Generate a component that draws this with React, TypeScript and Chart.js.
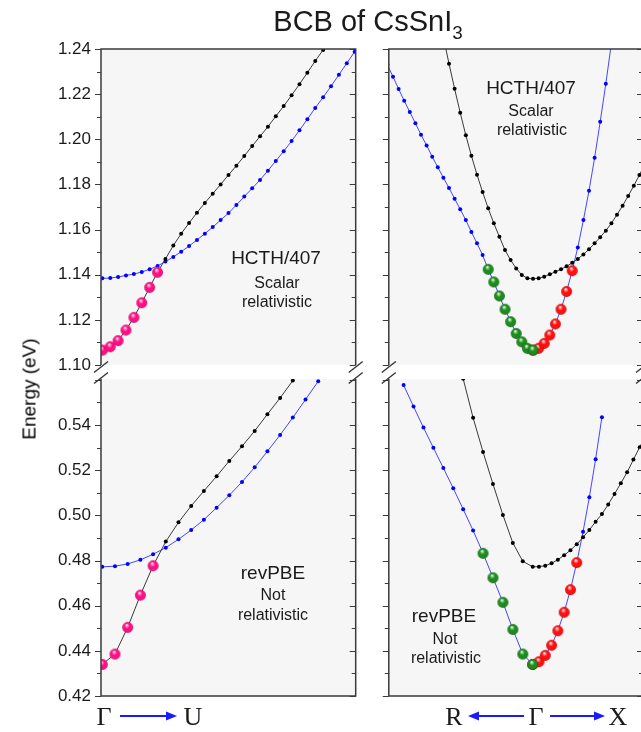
import React, { useEffect, useRef } from 'react';
import { Chart, registerables } from 'chart.js';

Chart.register(...registerables);

// ---------------- data ----------------
// Y ranges (eV)
const TOP_Y_MIN = 1.1;
const TOP_Y_MAX = 1.24;
const BOT_Y_MIN = 0.42;
const BOT_Y_MAX = 0.5604;

// Γ → U, HCTH/407 (k index 0,1,2,...)
const TL_BLACK = [1.1066, 1.1081, 1.1108, 1.1155, 1.1211, 1.1276, 1.1344, 1.1411, 1.147, 1.1529, 1.1582, 1.1629, 1.1675, 1.1718, 1.1759, 1.18, 1.1842, 1.1883, 1.1926, 1.197, 1.2013, 1.2056, 1.2102, 1.2147, 1.2195, 1.2244, 1.2295, 1.2347, 1.2396, 1.2447];
const TL_PINK = [1.1066, 1.1081, 1.1108, 1.1155, 1.1211, 1.1276, 1.1344, 1.1411];
const TL_BLUE = [1.1384, 1.1385, 1.139, 1.1397, 1.1403, 1.1412, 1.1424, 1.1439, 1.1458, 1.1479, 1.1502, 1.1527, 1.1554, 1.1582, 1.1611, 1.1642, 1.1673, 1.1709, 1.1746, 1.1783, 1.182, 1.1861, 1.1904, 1.1947, 1.1992, 1.204, 1.2089, 1.2139, 1.2186, 1.2235, 1.2286, 1.2337, 1.2388];

// Γ → U, revPBE
const BL_BLACK = [0.434, 0.4386, 0.4504, 0.4647, 0.4777, 0.4884, 0.4969, 0.5042, 0.5108, 0.5173, 0.5241, 0.5306, 0.5374, 0.5448, 0.552, 0.5597];
const BL_PINK = [0.434, 0.4386, 0.4504, 0.4647, 0.4777];
const BL_BLUE = [0.4772, 0.4775, 0.4785, 0.4803, 0.4828, 0.4857, 0.4894, 0.4935, 0.4981, 0.5034, 0.5089, 0.5148, 0.5213, 0.5284, 0.5356, 0.5433, 0.5513, 0.5594];

// R ← Γ → X, HCTH/407 ; R side listed from far R to Γ (n = 0), X side from m = 1 outward
const TR_X_STEP = 1;
const TR_BLUE_R = [1.233, 1.2277, 1.2223, 1.2171, 1.2121, 1.2071, 1.202, 1.1973, 1.1923, 1.1876, 1.183, 1.1784, 1.1737, 1.169, 1.1642, 1.1589, 1.1539, 1.1487, 1.1424, 1.1368, 1.1306, 1.1247, 1.1192, 1.114, 1.1103, 1.1074, 1.1066];
const TR_BLUE_X = [1.1074, 1.1096, 1.1133, 1.1182, 1.1247, 1.1326, 1.1418, 1.1521, 1.1642, 1.1772, 1.1918, 1.2078, 1.2246, 1.2426];
const TR_GREEN = [1.1424, 1.1368, 1.1306, 1.1247, 1.1192, 1.114, 1.1103, 1.1074, 1.1066];
const TR_RED = [1.1066, 1.1074, 1.1096, 1.1133, 1.1182, 1.1247, 1.1326, 1.1418];
const TR_BLACK_R = [1.2452, 1.2335, 1.2224, 1.2118, 1.2018, 1.1927, 1.1843, 1.1766, 1.1694, 1.1628, 1.1568, 1.1509, 1.1465, 1.1428, 1.1399, 1.1384, 1.1382];
const TR_BLACK_X = [1.1384, 1.1391, 1.1402, 1.1413, 1.1424, 1.1437, 1.1453, 1.147, 1.149, 1.1513, 1.1539, 1.1566, 1.1595, 1.1628, 1.1666, 1.1706, 1.1749, 1.1794, 1.1842, 1.189];

// R ← Γ → X, revPBE
const BR_X_STEP = 0.634;
const BR_BLUE_R = [0.5577, 0.5482, 0.5389, 0.5299, 0.521, 0.512, 0.5027, 0.4933, 0.4832, 0.4724, 0.4615, 0.4495, 0.4386, 0.434];
const BR_BLUE_X = [0.4352, 0.438, 0.4425, 0.4489, 0.4571, 0.4671, 0.4791, 0.4927, 0.508, 0.5249, 0.5435];
const BR_GREEN = [0.4832, 0.4724, 0.4615, 0.4495, 0.4386, 0.434];
const BR_RED = [0.434, 0.4352, 0.438, 0.4425, 0.4489, 0.4571, 0.4671, 0.4791];
const BR_BLACK_R = [0.5605, 0.5432, 0.5281, 0.5139, 0.5002, 0.4878, 0.4797, 0.4772];
const BR_BLACK_X = [0.4773, 0.4777, 0.4788, 0.4804, 0.4823, 0.4846, 0.4872, 0.4903, 0.4935, 0.4972, 0.5006, 0.5048, 0.5095, 0.5142, 0.5191, 0.5247, 0.5302, 0.5356];

// ---------------- helpers ----------------
const SANS = "'Liberation Sans', Arial, Helvetica, sans-serif";
const SERIF = "'Liberation Serif', 'Times New Roman', serif";
const BG = '#f6f6f6';
const AXIS = '#3a3a3a';
const BLACK_LINE = '#3a3a3a';
const BLUE_LINE = '#4646ff';
const CW = 660;
const CH = 732;

const fwd = (vals: number[], x0 = 0, step = 1) => vals.map((y, i) => ({ x: x0 + i * step, y }));
const rSide = (vals: number[]) => vals.map((y, i) => ({ x: i - (vals.length - 1), y }));
const xSide = (vals: number[], step: number) => vals.map((y, i) => ({ x: (i + 1) * step, y }));

function sphere(base: string, light: string, dark: string, r: number) {
  const c = document.createElement('canvas');
  const s = Math.ceil(r * 2) + 2;
  c.width = s;
  c.height = s;
  const g = c.getContext('2d')!;
  const cx = s / 2;
  const cy = s / 2;
  const grad = g.createRadialGradient(cx - r * 0.2, cy - r * 0.45, r * 0.05, cx, cy, r);
  grad.addColorStop(0, '#ffffff');
  grad.addColorStop(0.18, light);
  grad.addColorStop(0.45, base);
  grad.addColorStop(0.85, base);
  grad.addColorStop(1, dark);
  g.fillStyle = grad;
  g.beginPath();
  g.arc(cx, cy, r, 0, Math.PI * 2);
  g.fill();
  return c;
}

const lineDs = (data: any[], kind: 'black' | 'blue') => ({
  data,
  borderColor: kind === 'black' ? BLACK_LINE : BLUE_LINE,
  borderWidth: 1,
  pointRadius: 2,
  pointBorderWidth: 0,
  pointBackgroundColor: kind === 'black' ? '#000000' : '#0000ff',
  tension: 0,
});

const ballDs = (data: any[], img: HTMLCanvasElement) => ({
  data,
  showLine: false,
  pointStyle: img,
  pointRadius: 5,
  borderWidth: 0,
});

const panelDeco = {
  id: 'panelDeco',
  beforeDraw(chart: any) {
    const { ctx, chartArea: a } = chart;
    ctx.save();
    ctx.fillStyle = BG;
    ctx.fillRect(a.left, a.top, a.right - a.left, a.bottom - a.top);
    ctx.restore();
  },
  afterDraw(chart: any, _args: any, opts: any) {
    const { ctx, chartArea: a } = chart;
    const ys = chart.scales.y;
    ctx.save();
    ctx.strokeStyle = AXIS;
    ctx.lineWidth = 1.5;
    ctx.beginPath();
    ctx.moveTo(a.left, a.top);
    ctx.lineTo(a.left, a.bottom);
    ctx.moveTo(a.right, a.top);
    ctx.lineTo(a.right, a.bottom);
    if (opts.edge === 'top') {
      ctx.moveTo(a.left - 0.75, a.top);
      ctx.lineTo(a.right + 0.75, a.top);
    } else {
      ctx.moveTo(a.left - 0.75, a.bottom);
      ctx.lineTo(a.right + 0.75, a.bottom);
    }
    ctx.stroke();

    ctx.lineWidth = 1.2;
    ctx.beginPath();
    const k0 = Math.ceil(ys.min * 100 - 1e-6);
    const k1 = Math.floor(ys.max * 100 + 1e-6);
    for (let k = k0; k <= k1; k++) {
      const py = Math.round(ys.getPixelForValue(k / 100)) + 0.5;
      const major = k % 2 === 0;
      ctx.moveTo(a.left, py);
      ctx.lineTo(a.left - (major ? 6 : 4), py);
      ctx.moveTo(a.right, py);
      ctx.lineTo(a.right - (major ? 6 : 4), py);
    }
    ctx.stroke();

    // axis-break marks
    ctx.lineWidth = 1.5;
    ctx.beginPath();
    const by = opts.edge === 'top' ? a.bottom + 2 : a.top - 1;
    [a.left, a.right].forEach((x: number) => {
      ctx.moveTo(x - 7, by + 5.5);
      ctx.lineTo(x + 7, by - 5.5);
    });
    ctx.stroke();
    ctx.restore();
  },
};

type Panel = {
  l: number; t: number; r: number; b: number;
  xMin: number; xMax: number; yMin: number; yMax: number;
  labels: boolean; edge: 'top' | 'bottom';
  datasets: (s: Record<string, HTMLCanvasElement>) => any[];
};

const PANELS: Panel[] = [
  {
    l: 101, t: 49, r: 355.7, b: 365, xMin: -0.17, xMax: 32.13, yMin: TOP_Y_MIN, yMax: TOP_Y_MAX, labels: true, edge: 'top',
    datasets: (s) => [ballDs(fwd(TL_PINK), s.pink), lineDs(fwd(TL_BLACK), 'black'), lineDs(fwd(TL_BLUE), 'blue')],
  },
  {
    l: 101, t: 379, r: 355.7, b: 696, xMin: -0.1, xMax: 19.95, yMin: BOT_Y_MIN, yMax: BOT_Y_MAX, labels: true, edge: 'bottom',
    datasets: (s) => [ballDs(fwd(BL_PINK), s.pink), lineDs(fwd(BL_BLACK), 'black'), lineDs(fwd(BL_BLUE), 'blue')],
  },
  {
    l: 388.8, t: 49, r: 643, b: 365, xMin: -25.75, xMax: 19.64, yMin: TOP_Y_MIN, yMax: TOP_Y_MAX, labels: false, edge: 'top',
    datasets: (s) => [
      ballDs(rSide(TR_GREEN), s.green),
      ballDs(fwd(TR_RED, 0, TR_X_STEP), s.red),
      lineDs([...rSide(TR_BLACK_R), ...xSide(TR_BLACK_X, TR_X_STEP)], 'black'),
      lineDs([...rSide(TR_BLUE_R), ...xSide(TR_BLUE_X, TR_X_STEP)], 'blue'),
    ],
  },
  {
    l: 388.8, t: 379, r: 643, b: 696, xMin: -14.49, xMax: 11.11, yMin: BOT_Y_MIN, yMax: BOT_Y_MAX, labels: false, edge: 'bottom',
    datasets: (s) => [
      ballDs(rSide(BR_GREEN), s.green),
      ballDs(fwd(BR_RED, 0, BR_X_STEP), s.red),
      lineDs([...rSide(BR_BLACK_R), ...xSide(BR_BLACK_X, BR_X_STEP)], 'black'),
      lineDs([...rSide(BR_BLUE_R), ...xSide(BR_BLUE_X, BR_X_STEP)], 'blue'),
    ],
  },
];

function makeConfig(p: Panel, spheres: Record<string, HTMLCanvasElement>): any {
  const axisW = 60;
  const yScale: any = {
    type: 'linear',
    min: p.yMin,
    max: p.yMax,
    display: p.labels,
    grid: { display: false, drawTicks: false },
    border: { display: false },
    ticks: {
      stepSize: 0.02,
      autoSkip: false,
      padding: 10,
      color: '#1a1a1a',
      font: { family: SANS, size: 17 },
      callback: (v: number) => (v > 0.555 && v < 0.6 ? '' : Number(v).toFixed(2)),
    },
  };
  if (p.labels) yScale.afterFit = (sc: any) => { sc.width = axisW; };
  return {
    type: 'line',
    data: { datasets: p.datasets(spheres) },
    options: {
      responsive: false,
      animation: false,
      events: [],
      layout: { padding: { left: p.labels ? p.l - axisW : p.l, top: p.t, right: CW - p.r, bottom: CH - p.b } },
      scales: {
        x: { type: 'linear', min: p.xMin, max: p.xMax, display: false },
        y: yScale,
      },
      plugins: { legend: { display: false }, tooltip: { enabled: false }, panelDeco: { edge: p.edge } },
    },
    plugins: [panelDeco],
  };
}

const Txt = ({ x, y, size, children, family = SANS }: any) => (
  <div style={{ position: 'absolute', left: x, top: y, transform: 'translate(-50%,-50%)', fontSize: size, fontFamily: family, lineHeight: 1, whiteSpace: 'nowrap', color: '#1a1a1a' }}>
    {children}
  </div>
);

export default function App() {
  const r0 = useRef<HTMLCanvasElement>(null);
  const r1 = useRef<HTMLCanvasElement>(null);
  const r2 = useRef<HTMLCanvasElement>(null);
  const r3 = useRef<HTMLCanvasElement>(null);

  useEffect(() => {
    const spheres = {
      pink: sphere('#ff0f86', '#ff8cc6', '#b8005a', 5.4),
      green: sphere('#1c8c1c', '#8fd08f', '#0b520b', 5.4),
      red: sphere('#ff1010', '#ff9090', '#b00000', 5.4),
    };
    const refs = [r0, r1, r2, r3];
    const charts = PANELS.map((p, i) => new Chart(refs[i].current as HTMLCanvasElement, makeConfig(p, spheres)));
    return () => charts.forEach((c) => c.destroy());
  }, []);

  const cv = { position: 'absolute' as const, left: 0, top: 0 };

  return (
    <div style={{ position: 'absolute', left: 0, top: 0, width: 641, height: 732, overflow: 'hidden', background: '#ffffff', fontFamily: SANS }}>
      <canvas ref={r0} width={CW} height={CH} style={cv} />
      <canvas ref={r1} width={CW} height={CH} style={cv} />
      <canvas ref={r2} width={CW} height={CH} style={cv} />
      <canvas ref={r3} width={CW} height={CH} style={cv} />

      <Txt x={368} y={21} size={29}>
        BCB of CsSnI<span style={{ fontSize: '0.65em', position: 'relative', top: '0.45em' }}>3</span>
      </Txt>

      <div style={{ position: 'absolute', left: 29, top: 389, transform: 'translate(-50%,-50%) rotate(-90deg)', fontSize: 19, fontFamily: SANS, whiteSpace: 'nowrap', lineHeight: 1, color: '#000000' }}>
        Energy (eV)
      </div>

      <Txt x={276} y={257} size={19}>HCTH/407</Txt>
      <Txt x={277} y={283} size={16}>Scalar</Txt>
      <Txt x={277} y={302} size={16}>relativistic</Txt>

      <Txt x={273} y={572} size={19}>revPBE</Txt>
      <Txt x={273} y={595} size={16}>Not</Txt>
      <Txt x={273} y={615} size={16}>relativistic</Txt>

      <Txt x={531} y={87} size={19}>HCTH/407</Txt>
      <Txt x={531} y={111} size={16}>Scalar</Txt>
      <Txt x={532} y={130} size={16}>relativistic</Txt>

      <Txt x={444} y={615} size={19}>revPBE</Txt>
      <Txt x={445} y={639} size={16}>Not</Txt>
      <Txt x={446} y={658} size={16}>relativistic</Txt>

      <Txt x={104} y={717} size={26} family={SERIF}>Γ</Txt>
      <Txt x={193} y={717} size={26} family={SERIF}>U</Txt>
      <Txt x={454} y={717} size={26} family={SERIF}>R</Txt>
      <Txt x={536} y={717} size={26} family={SERIF}>Γ</Txt>
      <Txt x={618} y={717} size={26} family={SERIF}>X</Txt>

      <svg width={641} height={732} style={{ position: 'absolute', left: 0, top: 0 }}>
        <g stroke="#1a1aff" strokeWidth={2} fill="#1a1aff">
          <line x1={120} y1={716} x2={168} y2={716} />
          <polygon points="177,716 166,711.5 166,720.5" stroke="none" />
          <line x1={477} y1={716} x2={524} y2={716} />
          <polygon points="468,716 479,711.5 479,720.5" stroke="none" />
          <line x1={550} y1={716} x2={596} y2={716} />
          <polygon points="605,716 594,711.5 594,720.5" stroke="none" />
        </g>
      </svg>
    </div>
  );
}
